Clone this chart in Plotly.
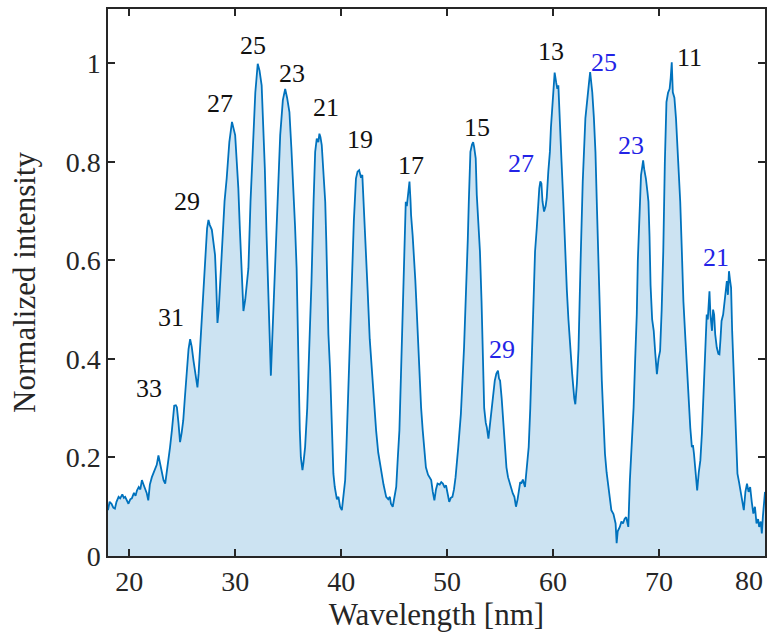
import plotly.graph_objects as go

# Spectrum
WAVELENGTH = [
 18.0, 18.15, 18.33, 18.5, 18.65, 18.8, 19.0, 19.15, 19.35, 19.5, 19.62, 19.8, 19.93, 20.1, 20.25, 20.45, 20.6, 20.73, 20.9, 21.05,
 21.2, 21.35, 21.5, 21.65, 21.8, 21.95, 22.14, 22.3, 22.45, 22.6, 22.76, 22.9, 23.05, 23.24, 23.4, 23.55, 23.7, 23.85, 24.03, 24.15,
 24.25, 24.4, 24.5, 24.65, 24.8, 24.95, 25.1, 25.25, 25.44, 25.6, 25.75, 25.9, 26.07, 26.25, 26.44, 26.55, 26.7, 26.85, 27.0, 27.2,
 27.35, 27.48, 27.6, 27.8, 27.95, 28.1, 28.2, 28.33, 28.45, 28.6, 28.8, 29.0, 29.2, 29.45, 29.7, 29.85, 30.0, 30.15, 30.3, 30.45,
 30.6, 30.78, 30.95, 31.1, 31.25, 31.45, 31.7, 31.9, 32.13, 32.3, 32.5, 32.65, 32.8, 32.95, 33.1, 33.25, 33.37, 33.5, 33.7, 33.77,
 34.0, 34.25, 34.5, 34.72, 34.9, 35.12, 35.3, 35.5, 35.65, 35.8, 35.95, 36.1, 36.2, 36.35, 36.45, 36.6, 36.8, 37.0, 37.2, 37.4,
 37.55, 37.7, 37.85, 37.95, 38.05, 38.17, 38.35, 38.5, 38.6, 38.7, 38.8, 38.96, 39.1, 39.27, 39.4, 39.6, 39.75, 39.9, 40.07, 40.2,
 40.38, 40.5, 40.7, 40.85, 41.0, 41.2, 41.4, 41.55, 41.7, 41.85, 42.0, 42.1, 42.2, 42.5, 42.7, 42.95, 43.1, 43.3, 43.5, 43.77,
 44.0, 44.25, 44.45, 44.6, 44.7, 44.87, 45.0, 45.2, 45.35, 45.5, 45.65, 45.8, 45.95, 46.1, 46.2, 46.3, 46.45, 46.55, 46.6, 46.75,
 46.86, 47.0, 47.08, 47.25, 47.4, 47.55, 47.7, 47.85, 48.0, 48.2, 48.5, 48.65, 48.8, 48.95, 49.1, 49.3, 49.45, 49.6, 49.75, 49.9,
 50.05, 50.2, 50.35, 50.5, 50.65, 50.8, 51.05, 51.3, 51.6, 51.85, 51.95, 52.05, 52.2, 52.35, 52.46, 52.55, 52.7, 52.8, 52.95, 53.1,
 53.25, 53.35, 53.5, 53.65, 53.75, 53.9, 54.05, 54.2, 54.35, 54.5, 54.65, 54.8, 54.9, 55.0, 55.15, 55.3, 55.45, 55.6, 55.75, 55.9,
 56.05, 56.2, 56.35, 56.5, 56.65, 56.8, 56.9, 57.0, 57.15, 57.35, 57.5, 57.7, 57.85, 58.0, 58.2, 58.3, 58.46, 58.6, 58.7, 58.8,
 58.9, 59.0, 59.15, 59.3, 59.4, 59.55, 59.7, 59.8, 59.9, 60.05, 60.15, 60.3, 60.4, 60.5, 60.58, 60.66, 60.8, 60.97, 61.1, 61.3,
 61.45, 61.6, 61.8, 62.0, 62.1, 62.25, 62.4, 62.6, 62.8, 63.05, 63.25, 63.4, 63.5, 63.6, 63.7, 63.85, 64.0, 64.15, 64.3, 64.45,
 64.6, 64.75, 64.9, 65.05, 65.2, 65.35, 65.5, 65.7, 65.9, 66.0, 66.1, 66.3, 66.45, 66.6, 66.75, 66.9, 67.0, 67.1, 67.25, 67.45,
 67.6, 67.75, 67.9, 68.0, 68.15, 68.3, 68.42, 68.5, 68.6, 68.76, 68.9, 69.0, 69.1, 69.2, 69.35, 69.5, 69.65, 69.8, 69.95, 70.1,
 70.25, 70.4, 70.55, 70.7, 70.85, 71.0, 71.1, 71.2, 71.3, 71.45, 71.6, 71.8, 72.0, 72.15, 72.3, 72.5, 72.65, 72.8, 72.95, 73.1,
 73.2, 73.3, 73.45, 73.6, 73.75, 73.9, 74.05, 74.2, 74.35, 74.5, 74.6, 74.76, 74.85, 75.0, 75.1, 75.2, 75.3, 75.45, 75.6, 75.7,
 75.8, 75.9, 76.05, 76.2, 76.3, 76.4, 76.5, 76.6, 76.7, 76.8, 76.9, 77.0, 77.1, 77.25, 77.4, 77.55, 77.7, 77.85, 78.0, 78.15,
 78.3, 78.45, 78.6, 78.75, 78.9, 79.05, 79.2, 79.35, 79.45, 79.6, 79.7, 79.8, 79.9, 80.0,
]
INTENSITY = [
 0.093, 0.11, 0.106, 0.098, 0.096, 0.11, 0.12, 0.117, 0.125, 0.118, 0.12, 0.112, 0.106, 0.115, 0.117, 0.128, 0.122, 0.133, 0.14, 0.135,
 0.154, 0.145, 0.137, 0.128, 0.113, 0.145, 0.16, 0.168, 0.174, 0.185, 0.204, 0.19, 0.17, 0.154, 0.147, 0.17, 0.187, 0.22, 0.255, 0.29,
 0.305, 0.306, 0.302, 0.27, 0.231, 0.25, 0.275, 0.32, 0.369, 0.42, 0.44, 0.425, 0.396, 0.37, 0.342, 0.37, 0.423, 0.47, 0.524, 0.6,
 0.665, 0.682, 0.672, 0.662, 0.64, 0.611, 0.56, 0.473, 0.5, 0.558, 0.64, 0.72, 0.766, 0.84, 0.881, 0.87, 0.854, 0.8, 0.746, 0.66,
 0.584, 0.497, 0.52, 0.558, 0.584, 0.72, 0.854, 0.94, 0.999, 0.985, 0.955, 0.88, 0.787, 0.66, 0.551, 0.44, 0.366, 0.44, 0.558, 0.58,
 0.72, 0.854, 0.925, 0.948, 0.93, 0.901, 0.83, 0.753, 0.67, 0.584, 0.4, 0.255, 0.2, 0.174, 0.19, 0.221, 0.3, 0.423, 0.555, 0.72,
 0.82, 0.847, 0.84, 0.857, 0.85, 0.834, 0.78, 0.719, 0.64, 0.551, 0.45, 0.376, 0.255, 0.167, 0.14, 0.115, 0.12, 0.1, 0.093, 0.125,
 0.154, 0.22, 0.356, 0.46, 0.54, 0.68, 0.766, 0.78, 0.783, 0.77, 0.773, 0.72, 0.67, 0.54, 0.44, 0.356, 0.3, 0.255, 0.21, 0.174,
 0.145, 0.12, 0.115, 0.12, 0.106, 0.1, 0.115, 0.14, 0.2, 0.255, 0.37, 0.49, 0.6, 0.719, 0.71, 0.726, 0.76, 0.72, 0.692, 0.65,
 0.618, 0.56, 0.524, 0.44, 0.356, 0.3, 0.255, 0.21, 0.18, 0.165, 0.154, 0.13, 0.113, 0.135, 0.147, 0.145, 0.15, 0.147, 0.14, 0.143,
 0.125, 0.11, 0.118, 0.12, 0.135, 0.16, 0.22, 0.288, 0.423, 0.558, 0.64, 0.72, 0.82, 0.835, 0.84, 0.83, 0.807, 0.733, 0.68, 0.618,
 0.517, 0.4, 0.3, 0.27, 0.261, 0.238, 0.27, 0.288, 0.33, 0.356, 0.37, 0.376, 0.36, 0.356, 0.32, 0.275, 0.22, 0.18, 0.16, 0.147,
 0.14, 0.127, 0.12, 0.1, 0.115, 0.14, 0.15, 0.147, 0.155, 0.14, 0.17, 0.221, 0.3, 0.423, 0.558, 0.618, 0.665, 0.72, 0.746, 0.76,
 0.756, 0.72, 0.699, 0.71, 0.726, 0.78, 0.82, 0.87, 0.908, 0.95, 0.981, 0.96, 0.948, 0.955, 0.92, 0.888, 0.8, 0.719, 0.64, 0.54,
 0.48, 0.423, 0.37, 0.32, 0.308, 0.35, 0.42, 0.6, 0.76, 0.888, 0.94, 0.962, 0.982, 0.96, 0.941, 0.89, 0.82, 0.7, 0.57, 0.45,
 0.356, 0.28, 0.207, 0.17, 0.14, 0.12, 0.093, 0.085, 0.066, 0.026, 0.05, 0.059, 0.07, 0.066, 0.075, 0.079, 0.07, 0.059, 0.154, 0.23,
 0.301, 0.4, 0.49, 0.6, 0.7, 0.773, 0.79, 0.803, 0.785, 0.766, 0.74, 0.719, 0.65, 0.55, 0.48, 0.457, 0.41, 0.369, 0.4, 0.416,
 0.5, 0.618, 0.8, 0.921, 0.94, 0.948, 0.97, 1.002, 0.941, 0.93, 0.888, 0.8, 0.719, 0.62, 0.517, 0.436, 0.37, 0.301, 0.26, 0.221,
 0.225, 0.207, 0.17, 0.133, 0.17, 0.194, 0.25, 0.322, 0.42, 0.49, 0.48, 0.537, 0.49, 0.457, 0.5, 0.49, 0.45, 0.423, 0.41, 0.409,
 0.44, 0.477, 0.49, 0.517, 0.54, 0.558, 0.53, 0.578, 0.56, 0.544, 0.457, 0.4, 0.356, 0.255, 0.167, 0.15, 0.133, 0.11, 0.093, 0.13,
 0.147, 0.13, 0.14, 0.11, 0.086, 0.1, 0.066, 0.075, 0.059, 0.07, 0.046, 0.08, 0.113, 0.13,
]

# Axis ticks
X_TICKS = [20, 30, 40, 50, 60, 70, 80]
X_TICK_TEXT = ["20", "30", "40", "50", "60", "70", "80"]
Y_TICKS = [0, 0.2, 0.4, 0.6, 0.8, 1]
Y_TICK_TEXT = ["0", "0.2", "0.4", "0.6", "0.8", "1"]

# Harmonic order labels
LABEL_TEXT = ["33", "31", "29", "27", "25", "23", "21", "19", "17", "15", "29", "27", "13", "25", "23", "11", "21"]
LABEL_X = [21.9, 23.95, 25.45, 28.55, 31.7, 35.35, 38.55, 41.8, 46.6, 52.85, 55.2, 56.95, 59.8, 64.8, 67.4, 72.85, 75.4]
LABEL_Y = [0.34, 0.485, 0.72, 0.918, 1.036, 0.98, 0.91, 0.846, 0.793, 0.87, 0.42, 0.797, 1.024, 1.002, 0.833, 1.012, 0.606]
LABEL_SET = ["a", "a", "a", "a", "a", "a", "a", "a", "a", "a", "b", "b", "a", "b", "b", "a", "b"]

LINE_COLOR = "#0072BD"
SET_COLORS = {"a": "#111111", "b": "#2323E6"}
FONT = "Liberation Serif"
AX_COLOR = "#262626"

fig = go.Figure()
fig.add_trace(go.Scatter(
    x=WAVELENGTH, y=INTENSITY, mode="lines",
    line=dict(color=LINE_COLOR, width=1.8),
    fill="tozeroy", fillcolor="rgba(0,114,189,0.2)",
    showlegend=False, hoverinfo="skip",
))

for t, x, y, s in zip(LABEL_TEXT, LABEL_X, LABEL_Y, LABEL_SET):
    fig.add_annotation(x=x, y=y, text=t, showarrow=False,
                       font=dict(family=FONT, size=26, color=SET_COLORS[s]),
                       xanchor="center", yanchor="middle")

# last x tick label is kept inside the axes box (as in the reference)
fig.add_annotation(x=X_TICKS[-1], xref="x", y=0, yref="paper", text=X_TICK_TEXT[-1],
                   showarrow=False, xanchor="right", yanchor="middle", yshift=-24,
                   font=dict(family=FONT, size=28, color=AX_COLOR))

axis_common = dict(
    showline=True, linecolor=AX_COLOR, linewidth=1.5, mirror="allticks",
    ticks="inside", ticklen=7, tickwidth=1.5, tickcolor=AX_COLOR,
    showgrid=False, zeroline=False,
    tickfont=dict(family=FONT, size=28, color=AX_COLOR),
)

fig.update_xaxes(range=[18, 80], tickvals=X_TICKS,
                 ticktext=X_TICK_TEXT[:-1] + [""],
                 title=dict(text="Wavelength [nm]", font=dict(family=FONT, size=31, color=AX_COLOR), standoff=4),
                 **axis_common)
fig.update_yaxes(range=[0, 1.11], tickvals=Y_TICKS, ticktext=Y_TICK_TEXT,
                 title=dict(text="Normalized intensity", font=dict(family=FONT, size=31, color=AX_COLOR), standoff=21),
                 **axis_common)

fig.update_layout(
    width=774, height=641,
    margin=dict(l=108, r=8, t=7, b=85),
    paper_bgcolor="white", plot_bgcolor="white",
)

fig.write_html("out.html")
